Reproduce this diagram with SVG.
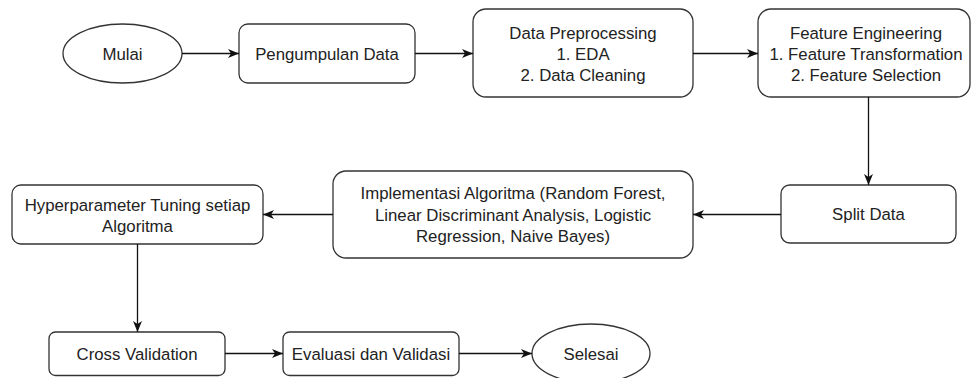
<svg xmlns="http://www.w3.org/2000/svg" width="971" height="378" viewBox="0 0 971 378">
  <style>
    .box { fill: #ffffff; stroke: #333333; stroke-width: 1.3; }
    .lbl { font-family: "Liberation Sans", Arial, sans-serif; font-size: 16.8px; fill: #222222; text-anchor: middle; }
    .edge { fill: none; stroke: #111111; stroke-width: 1.3; }
  </style>
  <defs>
    <marker id="arr" markerUnits="userSpaceOnUse" markerWidth="12" markerHeight="10" viewBox="0 0 12 10" refX="11" refY="5" orient="auto">
      <path d="M0,0.5 L11,5 L0,9.5 L3,5 Z" fill="#111111"/>
    </marker>
  </defs>
  <rect width="971" height="378" fill="#ffffff"/>

  <g id="mulai">
    <ellipse class="box" cx="122.5" cy="53.5" rx="59.5" ry="29.5"/>
    <text class="lbl" x="122.5" y="59.5">Mulai</text>
  </g>
  <g id="pengumpulan">
    <rect class="box" x="239" y="24" width="176" height="59" rx="8.9"/>
    <text class="lbl" x="327" y="59.5">Pengumpulan Data</text>
  </g>
  <g id="preprocessing">
    <rect class="box" x="473" y="9" width="220" height="88" rx="13"/>
    <text class="lbl" x="583" y="38.5">Data Preprocessing</text>
    <text class="lbl" x="583" y="59.5">1. EDA</text>
    <text class="lbl" x="583" y="80.5">2. Data Cleaning</text>
  </g>
  <g id="feature">
    <rect class="box" x="758" y="9" width="212" height="88" rx="13"/>
    <text class="lbl" x="866" y="38.5">Feature Engineering</text>
    <text class="lbl" x="866" y="59.5">1. Feature Transformation</text>
    <text class="lbl" x="866" y="80.5">2. Feature Selection</text>
  </g>
  <g id="split">
    <rect class="box" x="781" y="185" width="175" height="58" rx="8.7"/>
    <text class="lbl" x="868.5" y="220">Split Data</text>
  </g>
  <g id="implementasi">
    <rect class="box" x="333" y="171" width="360" height="87" rx="13"/>
    <text class="lbl" x="513" y="199">Implementasi Algoritma (Random Forest,</text>
    <text class="lbl" x="513" y="220.5">Linear Discriminant Analysis, Logistic</text>
    <text class="lbl" x="513" y="242">Regression, Naive Bayes)</text>
  </g>
  <g id="hyperparameter">
    <rect class="box" x="12" y="185" width="251" height="59" rx="8.9"/>
    <text class="lbl" x="137.5" y="210.5">Hyperparameter Tuning setiap</text>
    <text class="lbl" x="137.5" y="231.5">Algoritma</text>
  </g>
  <g id="crossval">
    <rect class="box" x="49" y="332" width="176" height="43.5" rx="6.5"/>
    <text class="lbl" x="137" y="359.5">Cross Validation</text>
  </g>
  <g id="evaluasi">
    <rect class="box" x="283" y="332" width="176" height="43.5" rx="6.5"/>
    <text class="lbl" x="371" y="359.5">Evaluasi dan Validasi</text>
  </g>
  <g id="selesai">
    <ellipse class="box" cx="591" cy="353.5" rx="59" ry="29.5"/>
    <text class="lbl" x="591" y="359.5">Selesai</text>
  </g>

  <g id="connectors">
    <path class="edge" d="M182,53.5 L239,53.5" marker-end="url(#arr)"/>
    <path class="edge" d="M415,53.5 L473,53.5" marker-end="url(#arr)"/>
    <path class="edge" d="M693,53.5 L758,53.5" marker-end="url(#arr)"/>
    <path class="edge" d="M868.5,97 L868.5,185" marker-end="url(#arr)"/>
    <path class="edge" d="M781,214.5 L693,214.5" marker-end="url(#arr)"/>
    <path class="edge" d="M333,214.5 L263,214.5" marker-end="url(#arr)"/>
    <path class="edge" d="M137.5,244 L137.5,332" marker-end="url(#arr)"/>
    <path class="edge" d="M225,353.5 L283,353.5" marker-end="url(#arr)"/>
    <path class="edge" d="M459,353.5 L532,353.5" marker-end="url(#arr)"/>
  </g>
</svg>
